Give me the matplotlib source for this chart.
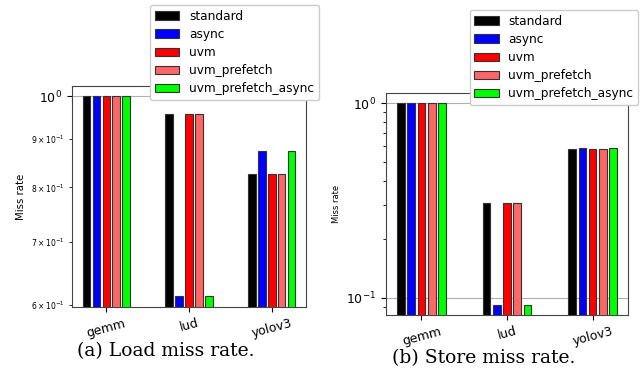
import numpy as np
import matplotlib
matplotlib.use("Agg")
import matplotlib.pyplot as plt

# ======================
# DATA
# ======================
benchmarks = ["gemm", "lud", "yolov3"]
variants = ["standard", "async", "uvm", "uvm_prefetch", "uvm_prefetch_async"]
colors = ["black", "blue", "red", "#ff6666", "#00ff00"]

load_standard = [1.0, 0.957, 0.826]
load_async = [1.0, 0.613, 0.874]
load_uvm = [1.0, 0.957, 0.826]
load_uvm_prefetch = [1.0, 0.957, 0.826]
load_uvm_prefetch_async = [1.0, 0.613, 0.874]

store_standard = [1.0, 0.307, 0.581]
store_async = [1.0, 0.092, 0.586]
store_uvm = [1.0, 0.307, 0.579]
store_uvm_prefetch = [1.0, 0.307, 0.579]
store_uvm_prefetch_async = [1.0, 0.092, 0.586]

load = [load_standard, load_async, load_uvm, load_uvm_prefetch, load_uvm_prefetch_async]
store = [store_standard, store_async, store_uvm, store_uvm_prefetch, store_uvm_prefetch_async]

# ======================
# PLOT
# ======================
fig = plt.figure(figsize=(6.44, 3.71), dpi=100)
ax1 = fig.add_axes([0.1118, 0.1725, 0.3634, 0.5957])
ax2 = fig.add_axes([0.5994, 0.151, 0.3758, 0.598])

x = np.arange(len(benchmarks))
step = 0.12
width = 0.09


def draw(ax, data, ylim, ylab_size, leg_anchor):
    for i, (name, vals) in enumerate(zip(variants, data)):
        ax.bar(x + (i - 2) * step, vals, width, color=colors[i],
               edgecolor="#333333", linewidth=0.8, label=name, zorder=3)
    ax.set_yscale("log")
    ax.set_ylim(*ylim)
    ax.set_xticks(x)
    ax.set_xticklabels(benchmarks, rotation=15, fontsize=9)
    ax.set_ylabel("Miss rate", fontsize=ylab_size)
    ax.grid(axis="y", which="major", color="#b0b0b0", linewidth=0.8, zorder=0)
    ax.tick_params(axis="y", which="major", labelsize=9)
    for s in ax.spines.values():
        s.set_color("#444444")
    fig.legend(*ax.get_legend_handles_labels(), loc="upper right",
               bbox_to_anchor=leg_anchor, fontsize=8.7, framealpha=1,
               edgecolor="#cccccc", handlelength=2.0, labelspacing=0.42,
               borderaxespad=0)


draw(ax1, load, (0.597, 1.025), 7.3, (0.4953, 0.9865))
ax1.tick_params(axis="y", which="minor", labelsize=5.5)
draw(ax2, store, (0.0818, 1.125), 6, (0.9907, 0.973))

fig.text(166 / 644, 1 - 351 / 371, "(a) Load miss rate.", family="DejaVu Serif",
         fontsize=13.5, ha="center", va="center")
fig.text(484 / 644, 1 - 358 / 371, "(b) Store miss rate.", family="DejaVu Serif",
         fontsize=13.5, ha="center", va="center")

fig.savefig("out.png", dpi=100)
